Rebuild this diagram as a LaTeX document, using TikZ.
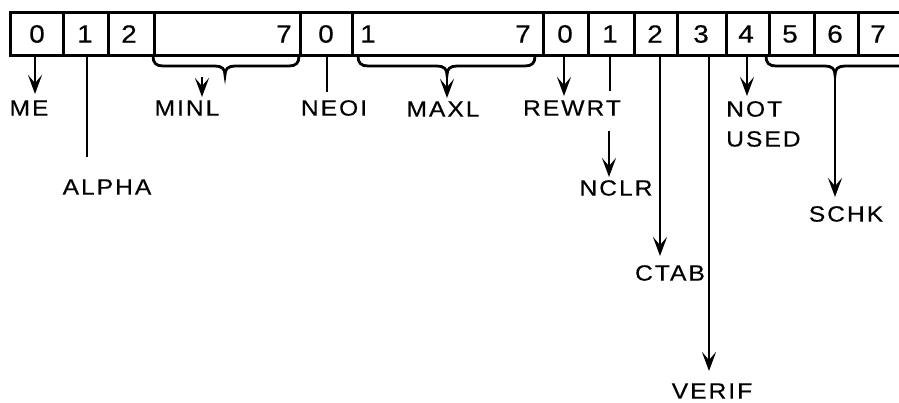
\documentclass[tikz,border=0pt]{standalone}
\usepackage{fontspec}
\setmainfont{Liberation Sans}[FakeStretch=1.12,LetterSpace=9,FakeBold=0.4]
\usetikzlibrary{arrows.meta}
\begin{document}
\begin{tikzpicture}[x=1pt,y=-1pt,
  cell/.style={draw,line width=3pt,minimum height=43pt,inner sep=0pt,anchor=north west},
  digit/.style={font=\fontsize{25}{26}\selectfont,inner sep=0pt},
  lbl/.style={font=\fontsize{22}{30}\selectfont,inner sep=0pt},
  link/.style={line width=2.6pt},
  arr/.style={line width=2.6pt,-{Stealth[length=19pt,width=14pt,inset=8pt]}},
  brace/.style={line width=2.8pt,line cap=round}]
\useasboundingbox (0,0) rectangle (899,403);
\clip (0,0) rectangle (899,403);

% register cells
\node[cell,minimum width=53pt]  (c0)  at (9,11)   {};
\node[cell,minimum width=45pt]  (c1)  at (62,11)  {};
\node[cell,minimum width=46pt]  (c2)  at (107,11) {};
\node[cell,minimum width=146pt] (c3)  at (153,11) {};
\node[cell,minimum width=52pt]  (c4)  at (299,11) {};
\node[cell,minimum width=191pt] (c5)  at (351,11) {};
\node[cell,minimum width=45pt]  (c6)  at (542,11) {};
\node[cell,minimum width=46pt]  (c7)  at (587,11) {};
\node[cell,minimum width=43pt]  (c8)  at (633,11) {};
\node[cell,minimum width=49pt]  (c9)  at (676,11) {};
\node[cell,minimum width=43pt]  (c10) at (725,11) {};
\node[cell,minimum width=45pt]  (c11) at (768,11) {};
\node[cell,minimum width=44pt]  (c12) at (813,11) {};
\node[cell,minimum width=60pt]  (c13) at (857,11) {};

% bit numbers
\node[digit] (d0)  at (37,34)  {0};
\node[digit] (d1)  at (85,34)  {1};
\node[digit] (d2)  at (129,34) {2};
\node[digit] (d3)  at (284,34) {7};
\node[digit] (d4)  at (326,34) {0};
\node[digit] (d5a) at (368,34) {1};
\node[digit] (d5b) at (523,34) {7};
\node[digit] (d6)  at (565,34) {0};
\node[digit] (d7)  at (610,34) {1};
\node[digit] (d8)  at (655,34) {2};
\node[digit] (d9)  at (701,34) {3};
\node[digit] (d10) at (746,34) {4};
\node[digit] (d11) at (790,34) {5};
\node[digit] (d12) at (835,34) {6};
\node[digit] (d13) at (878,34) {7};

% field names
\node[lbl] (me)    at (29,108)  {ME};
\node[lbl] (alpha) at (107,187) {ALPHA};
\node[lbl] (minl)  at (187,108) {MINL};
\node[lbl] (neoi)  at (334,108) {NEOI};
\node[lbl] (maxl)  at (443,109) {MAXL};
\node[lbl] (rewrt) at (572,108) {REWRT};
\node[lbl] (nclr)  at (616,188) {NCLR};
\node[lbl] (ctab)  at (670,273) {CTAB};
\node[lbl] (verif) at (712,391) {VERIF};
\node[lbl,align=left,anchor=north west] (notused) at (726,101) {NOT\\USED};
\node[lbl] (schk)  at (846,214) {SCHK};

% braces grouping multi-bit fields
\draw[brace] (153,56) .. controls (153,63) and (156,66) .. (163,66) -- (215,66)
  .. controls (222,66) and (225,69) .. (225,75) coordinate (bminl)
  .. controls (225,69) and (228,66) .. (235,66) -- (289,66)
  .. controls (296,66) and (299,63) .. (299,56);
\draw[brace] (358,56) .. controls (358,63) and (361,66) .. (368,66) -- (437,66)
  .. controls (444,66) and (447,69) .. (447,75) coordinate (bmaxl)
  .. controls (447,69) and (450,66) .. (457,66) -- (525,66)
  .. controls (532,66) and (535,63) .. (535,56);
\draw[brace] (766,56) .. controls (766,63) and (769,66) .. (776,66) -- (825,66)
  .. controls (832,66) and (835,69) .. (835,75) coordinate (bschk)
  .. controls (835,69) and (838,66) .. (845,66) -- (910,66);

% connectors
\coordinate (meT)    at (35,94);
\coordinate (alT)    at (87,157);
\coordinate (minS)   at (202,77);
\coordinate (minT)   at (202,97);
\coordinate (neT)    at (327,92);
\coordinate (maxT)   at (447,98);
\coordinate (reT)    at (564,96);
\coordinate (ncA)    at (610,91);
\coordinate (ncS)    at (609,131);
\coordinate (ncT)    at (609,177);
\coordinate (ctT)    at (660,256);
\coordinate (veT)    at (709,371);
\coordinate (noT)    at (747,96);
\coordinate (scT)    at (835,197);

\draw[arr]  (c0.south -| meT) -- (meT);
\draw[link] (c1.south -| alT) -- (alT);
\draw[arr]  (minS) -- (minT);
\draw[link] (c4.south -| neT) -- (neT);
\draw[arr]  (bmaxl) -- (maxT);
\draw[arr]  (c6.south -| reT) -- (reT);
\draw[link] (c7.south -| ncA) -- (ncA);
\draw[arr]  (ncS) -- (ncT);
\draw[arr]  (c8.south -| ctT) -- (ctT);
\draw[arr]  (c9.south -| veT) -- (veT);
\draw[arr]  (c10.south -| noT) -- (noT);
\draw[arr]  (bschk) -- (scT);
\end{tikzpicture}
\end{document}
